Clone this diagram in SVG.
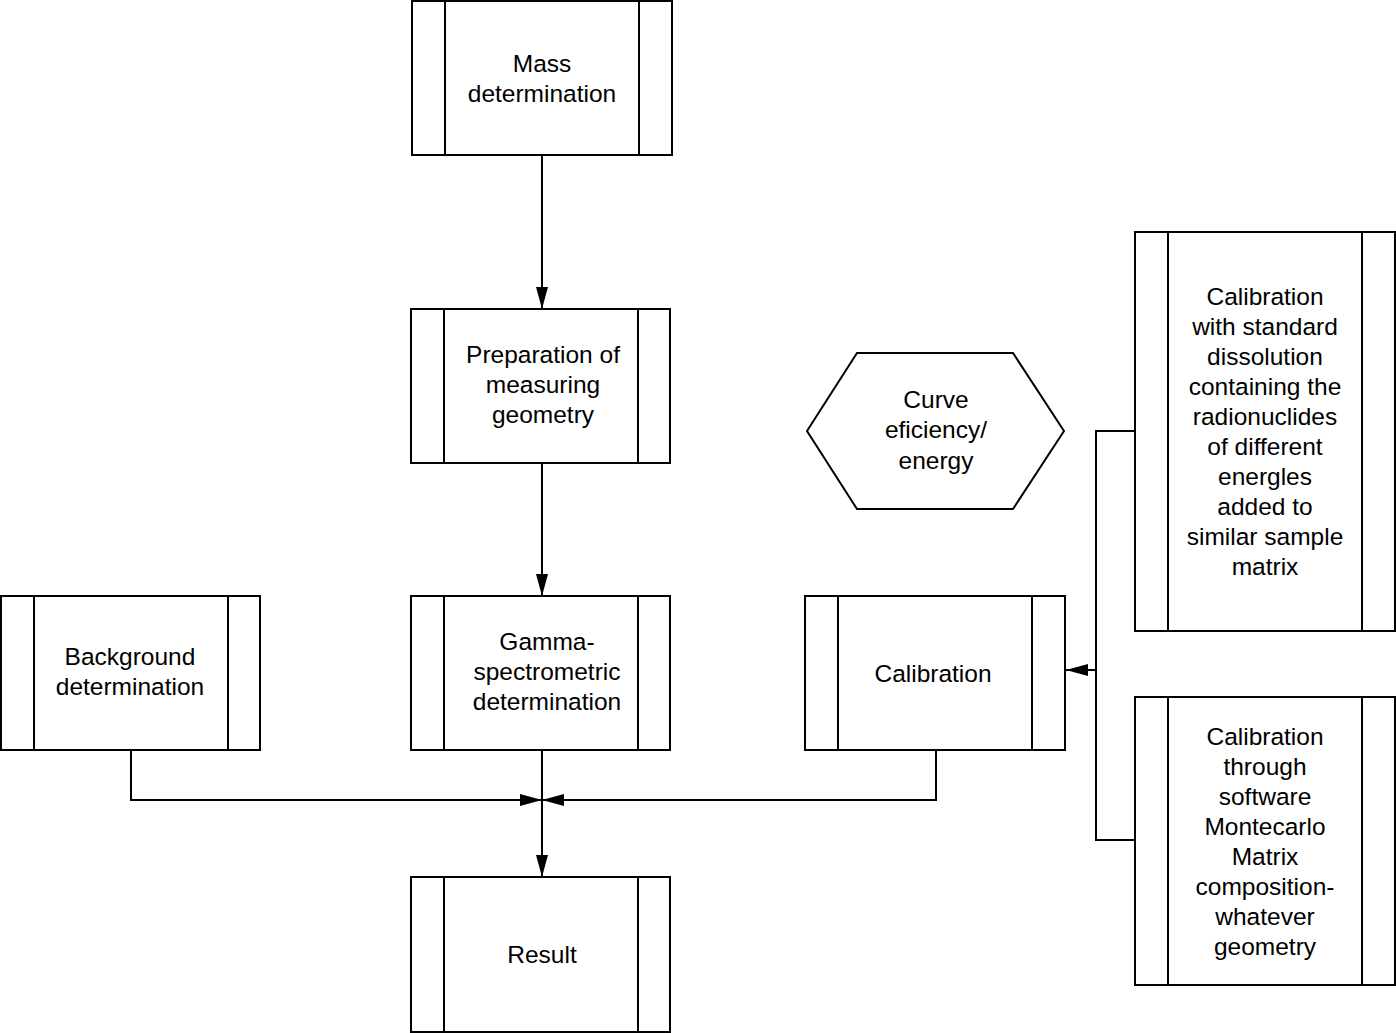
<svg xmlns="http://www.w3.org/2000/svg" width="1396" height="1033" viewBox="0 0 1396 1033">
<style>
.b{fill:#fff;stroke:#000;stroke-width:2}
.l{fill:none;stroke:#000;stroke-width:2}
.t{font-family:"Liberation Sans",Arial,sans-serif;font-size:24.5px;fill:#000;text-anchor:middle}
</style>
<defs>
<marker id="ah" viewBox="0 0 22 12" refX="22" refY="6" markerWidth="22" markerHeight="12" markerUnits="userSpaceOnUse" orient="auto">
<path d="M0,0 L22,6 L0,12 Z" fill="#000"/>
</marker>
</defs>
<rect width="1396" height="1033" fill="#fff"/>
<g id="connectors">
<line class="l" x1="542" y1="155" x2="542" y2="309" marker-end="url(#ah)"/>
<line class="l" x1="542" y1="463" x2="542" y2="596" marker-end="url(#ah)"/>
<line class="l" x1="542" y1="750" x2="542" y2="877" marker-end="url(#ah)"/>
<polyline class="l" points="131,750 131,800 542,800" marker-end="url(#ah)"/>
<polyline class="l" points="936,750 936,800 542,800" marker-end="url(#ah)"/>
<polyline class="l" points="1135,431 1096,431 1096,840 1135,840"/>
<line class="l" x1="1096" y1="670" x2="1066" y2="670" marker-end="url(#ah)"/>
</g>
<g id="mass">
<rect class="b" x="412" y="1" width="260" height="154"/>
<line class="l" x1="445" y1="1" x2="445" y2="155"/>
<line class="l" x1="639" y1="1" x2="639" y2="155"/>
<text class="t" x="542" y="72">Mass</text>
<text class="t" x="542" y="102">determination</text>
</g>
<g id="prep">
<rect class="b" x="411" y="309" width="259" height="154"/>
<line class="l" x1="444" y1="309" x2="444" y2="463"/>
<line class="l" x1="638" y1="309" x2="638" y2="463"/>
<text class="t" x="543" y="363">Preparation of</text>
<text class="t" x="543" y="393">measuring</text>
<text class="t" x="543" y="423">geometry</text>
</g>
<g id="gamma">
<rect class="b" x="411" y="596" width="259" height="154"/>
<line class="l" x1="444" y1="596" x2="444" y2="750"/>
<line class="l" x1="638" y1="596" x2="638" y2="750"/>
<text class="t" x="547" y="650">Gamma-</text>
<text class="t" x="547" y="680">spectrometric</text>
<text class="t" x="547" y="710">determination</text>
</g>
<g id="background">
<rect class="b" x="1" y="596" width="259" height="154"/>
<line class="l" x1="34" y1="596" x2="34" y2="750"/>
<line class="l" x1="228" y1="596" x2="228" y2="750"/>
<text class="t" x="130" y="665">Background</text>
<text class="t" x="130" y="695">determination</text>
</g>
<g id="result">
<rect class="b" x="411" y="877" width="259" height="155"/>
<line class="l" x1="444" y1="877" x2="444" y2="1032"/>
<line class="l" x1="638" y1="877" x2="638" y2="1032"/>
<text class="t" x="542" y="963">Result</text>
</g>
<g id="calibration">
<rect class="b" x="805" y="596" width="260" height="154"/>
<line class="l" x1="838" y1="596" x2="838" y2="750"/>
<line class="l" x1="1032" y1="596" x2="1032" y2="750"/>
<text class="t" x="933" y="682">Calibration</text>
</g>
<g id="curve">
<polygon class="b" points="807,431 857,353 1013,353 1064,431 1013,509 857,509"/>
<text class="t" x="936" y="408">Curve</text>
<text class="t" x="936" y="438">eficiency/</text>
<text class="t" x="936" y="469">energy</text>
</g>
<g id="cal-standard">
<rect class="b" x="1135" y="232" width="260" height="399"/>
<line class="l" x1="1168" y1="232" x2="1168" y2="631"/>
<line class="l" x1="1362" y1="232" x2="1362" y2="631"/>
<text class="t" x="1265" y="305">Calibration</text>
<text class="t" x="1265" y="335">with standard</text>
<text class="t" x="1265" y="365">dissolution</text>
<text class="t" x="1265" y="395">containing the</text>
<text class="t" x="1265" y="425">radionuclides</text>
<text class="t" x="1265" y="455">of different</text>
<text class="t" x="1265" y="485">energles</text>
<text class="t" x="1265" y="515">added to</text>
<text class="t" x="1265" y="545">similar sample</text>
<text class="t" x="1265" y="575">matrix</text>
</g>
<g id="cal-software">
<rect class="b" x="1135" y="697" width="260" height="288"/>
<line class="l" x1="1168" y1="697" x2="1168" y2="985"/>
<line class="l" x1="1362" y1="697" x2="1362" y2="985"/>
<text class="t" x="1265" y="745">Calibration</text>
<text class="t" x="1265" y="775">through</text>
<text class="t" x="1265" y="805">software</text>
<text class="t" x="1265" y="835">Montecarlo</text>
<text class="t" x="1265" y="865">Matrix</text>
<text class="t" x="1265" y="895">composition-</text>
<text class="t" x="1265" y="925">whatever</text>
<text class="t" x="1265" y="955">geometry</text>
</g>
</svg>
